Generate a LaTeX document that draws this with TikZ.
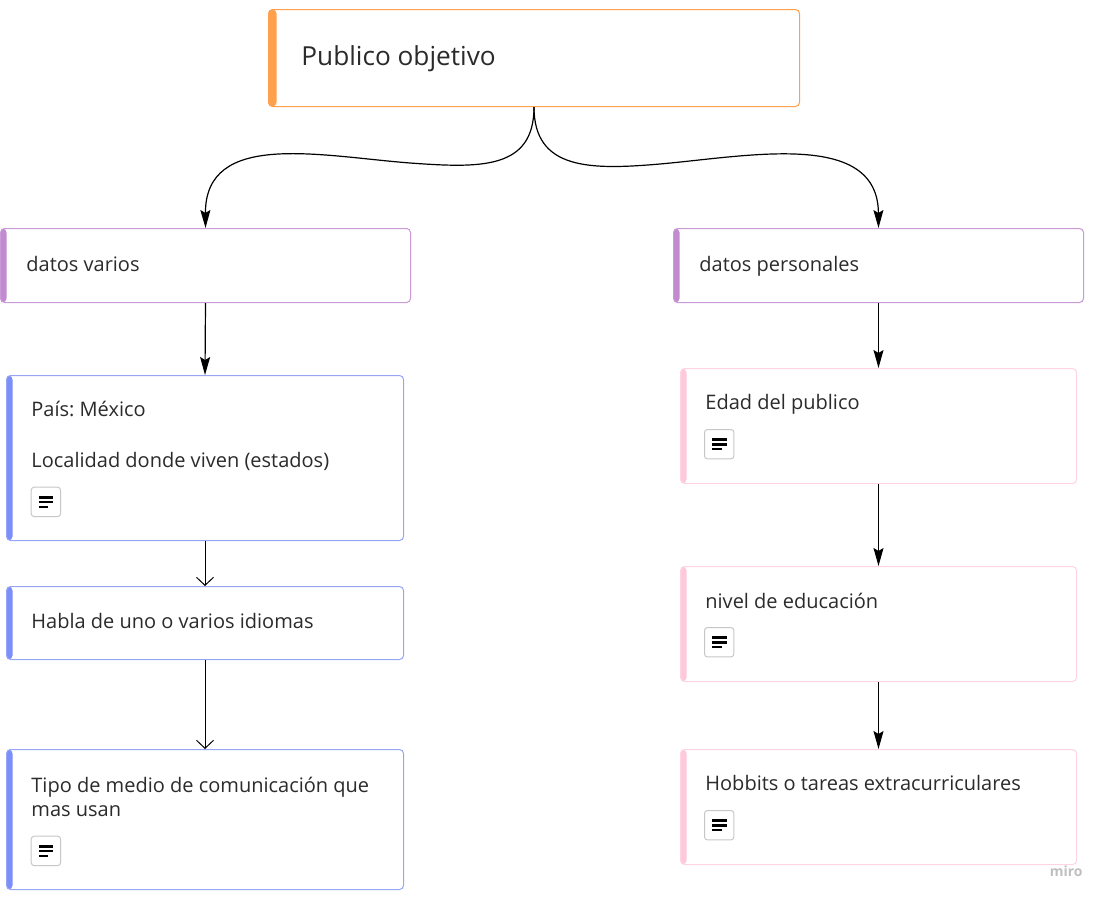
\documentclass[tikz,border=0pt]{standalone}
\usepackage{fontspec}
\setmainfont{Open Sans}
\usetikzlibrary{arrows.meta,positioning}
\frenchspacing

\definecolor{naranja}{HTML}{FFA04C}
\definecolor{morado}{HTML}{C99AD6}
\definecolor{moradobar}{HTML}{C28BD0}
\definecolor{azul}{HTML}{97A6F4}
\definecolor{azulbar}{HTML}{7B8EFA}
\definecolor{rosa}{HTML}{FFD5E3}
\definecolor{rosabar}{HTML}{FFC9DC}
\definecolor{tinta}{HTML}{2B2B2B}

\begin{document}
\begin{tikzpicture}[x=0.5pt,y=-0.5pt,
  caja/.style n args={3}{draw=#1, fill=white, rounded corners=2pt, line width=0.5pt,
    anchor=north west, inner sep=0pt,
    path picture={\fill[#2] (path picture bounding box.north west) rectangle
      ([xshift=#3]path picture bounding box.south west);}},
  texto/.style={anchor=base west, inner sep=0pt, text=tinta,
    font=\fontsize{10}{11.7}\selectfont, align=left},
  icono/.style={draw=black!22, fill=white, rounded corners=1.5pt, line width=0.5pt,
    minimum size=14.7pt, anchor=north west, inner sep=0pt,
    path picture={
      \draw[black, line width=1.3pt] ([shift={(3.8pt,-5pt)}]path picture bounding box.north west) -- ++(7.2pt,0);
      \draw[black, line width=1.3pt] ([shift={(3.8pt,-7.4pt)}]path picture bounding box.north west) -- ++(7.2pt,0);
      \draw[black, line width=1.3pt] ([shift={(3.8pt,-9.8pt)}]path picture bounding box.north west) -- ++(4.7pt,0);}},
  flecha/.style={-{Stealth[length=9pt,width=5pt,inset=1.5pt]}, line width=0.6pt},
  flechaab/.style={-{Straight Barb[length=4pt,width=8.5pt]}, line width=0.5pt}]

\useasboundingbox (0,0) rectangle (1109,901);

% cajas
\node[caja={naranja}{naranja}{4pt}, minimum width=265.5pt, minimum height=48.5pt] (publico) at (268,9) {};
\node[caja={morado}{moradobar}{3pt}, minimum width=205pt, minimum height=37pt] (varios) at (0,228) {};
\node[caja={morado}{moradobar}{3pt}, minimum width=205pt, minimum height=37pt] (personales) at (673,228) {};

\node[caja={azul}{azulbar}{3pt}, minimum width=198.5pt, minimum height=82.5pt] (pais) at (6,375) {};
\node[caja={azul}{azulbar}{3pt}, minimum width=198.5pt, minimum height=36.5pt] (habla) at (6,586) {};
\node[caja={azul}{azulbar}{3pt}, minimum width=198.5pt, minimum height=70pt] (tipo) at (6,749) {};

\node[caja={rosa}{rosabar}{3pt}, minimum width=198pt, minimum height=57.5pt] (edad) at (680,368) {};
\node[caja={rosa}{rosabar}{3pt}, minimum width=198pt, minimum height=57.5pt] (nivel) at (680,566) {};
\node[caja={rosa}{rosabar}{3pt}, minimum width=198pt, minimum height=57.5pt] (hobbits) at (680,749) {};

% textos
\node[texto, font=\fontsize{13.1}{15}\selectfont] (tpublico) at (301,65) {Publico objetivo};
\node[texto] (tvarios) at (26,271) {datos varios};
\node[texto] (tpersonales) at (699,271) {datos personales};
\node[texto] (tpais) at (31,416.7) {País: México};
\node[texto] (tlocal) at (31,467.3) {Localidad donde viven (estados)};
\node[texto] (thabla) at (31,628.3) {Habla de uno o varios idiomas};
\node[texto] (ttipo) at (31,816) {Tipo de medio de comunicación que\\mas usan};
\node[texto] (tedad) at (705,409.3) {Edad del publico};
\node[texto] (tnivel) at (705,608) {nivel de educación};
\node[texto] (thobbits) at (705,790) {Hobbits o tareas extracurriculares};

% iconos de nota
\node[icono] (ipais) at (30.7,486.7) {};
\node[icono] (itipo) at (30.7,835.7) {};
\node[icono] (iedad) at (704,429) {};
\node[icono] (inivel) at (704,627) {};
\node[icono] (ihobbits) at (704,810) {};

% flechas
\draw[flecha] (publico.south) .. controls (534,170) and (480,168) .. (410,163)
  .. controls (320,156) and (205,130) .. (varios.north);
\draw[flecha] (publico.south) .. controls (534,170) and (590,170) .. (660,164)
  .. controls (750,156) and (878,130) .. (personales.north);

\draw[flecha] (varios.south) -- (pais.north);
\draw[flechaab] (pais.south) -- (habla.north);
\draw[flechaab] (habla.south) -- (tipo.north);

\draw[flecha] (personales.south) -- (edad.north);
\draw[flecha] (edad.south) -- (nivel.north);
\draw[flecha] (nivel.south) -- (hobbits.north);

\node[anchor=base east, inner sep=0pt, text=black!25, font=\fontsize{7}{8}\selectfont\bfseries] (miro) at (1083,876) {miro};

\end{tikzpicture}
\end{document}
